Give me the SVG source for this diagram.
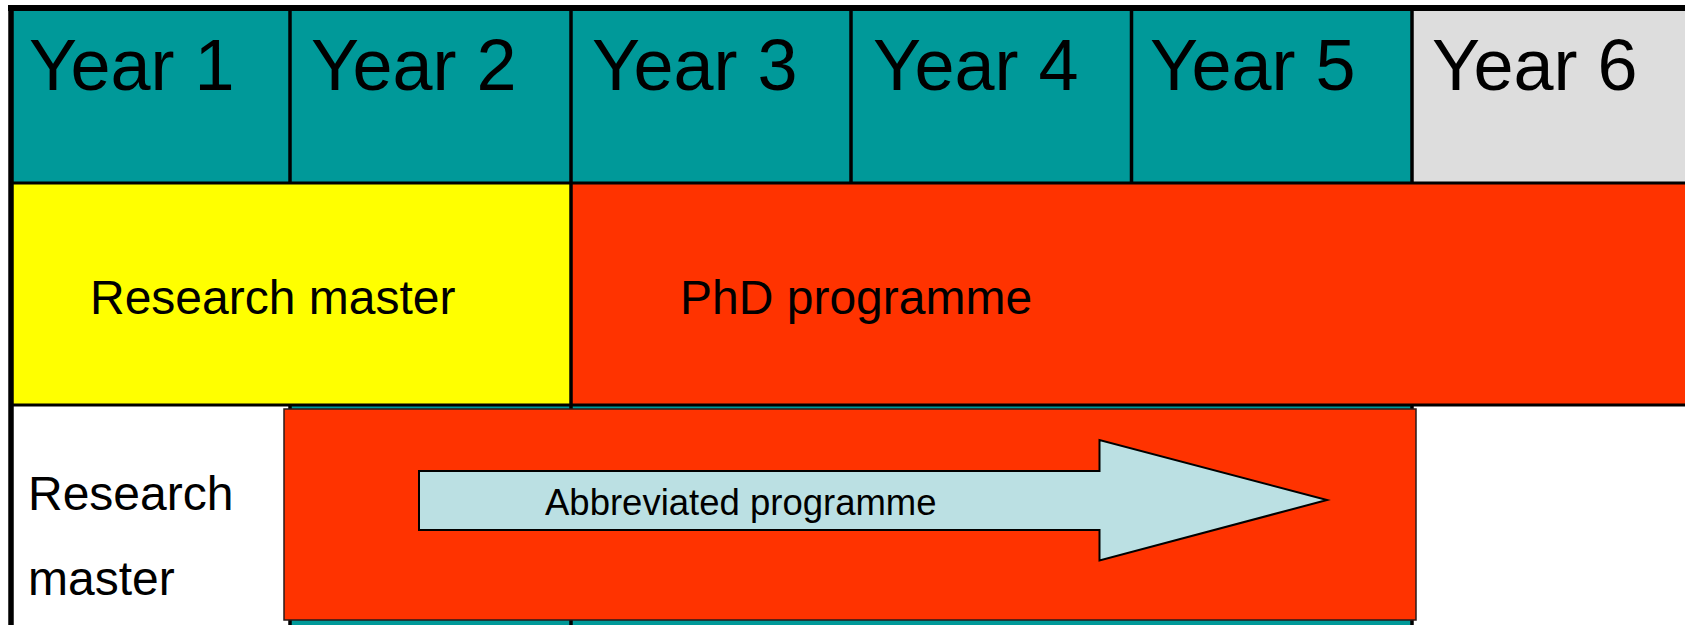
<svg xmlns="http://www.w3.org/2000/svg" width="1685" height="625" viewBox="0 0 1685 625">
  <style>
    .t { font-family: "Liberation Sans", Arial, sans-serif; fill: #000; }
    .yr { font-size: 72px; }
    .lbl { font-size: 48px; }
    .teal { fill: #009999; }
    .grid { stroke: #000; fill: none; }
  </style>
  <rect x="0" y="0" width="1685" height="625" fill="#ffffff"/>

  <!-- header row -->
  <g id="header">
    <rect class="teal" x="11" y="8" width="1401" height="175"/>
    <rect x="1412" y="8" width="280" height="175" fill="#DDDDDD"/>
    <text class="t yr" x="29" y="90">Year 1</text>
    <text class="t yr" x="311" y="90">Year 2</text>
    <text class="t yr" x="592" y="90">Year 3</text>
    <text class="t yr" x="873" y="90">Year 4</text>
    <text class="t yr" x="1150" y="90">Year 5</text>
    <text class="t yr" x="1432" y="90">Year 6</text>
  </g>

  <!-- second row -->
  <g id="research-master-row">
    <rect x="11" y="183" width="560" height="222" fill="#FFFF00"/>
    <text class="t lbl" x="90" y="314">Research master</text>
  </g>
  <g id="phd-programme">
    <rect x="571" y="183" width="1120" height="222" fill="#FF3300"/>
    <text class="t lbl" x="680" y="314">PhD programme</text>
  </g>

  <!-- third row background -->
  <g id="row3">
    <rect class="teal" x="290" y="405" width="1122" height="225"/>
    <text class="t" font-size="48" x="28" y="510">Research</text>
    <text class="t" font-size="48" x="28" y="595">master</text>
  </g>

  <!-- grid lines -->
  <g id="grid" class="grid">
    <line x1="8" y1="8" x2="1690" y2="8" stroke-width="6"/>
    <line x1="11" y1="5" x2="11" y2="630" stroke-width="5.5"/>
    <line x1="11" y1="183" x2="1690" y2="183" stroke-width="3"/>
    <line x1="11" y1="405" x2="1690" y2="405" stroke-width="3"/>
    <line x1="290" y1="8" x2="290" y2="183" stroke-width="3.5"/>
    <line x1="290" y1="405" x2="290" y2="630" stroke-width="3.5"/>
    <line x1="571" y1="8" x2="571" y2="630" stroke-width="3.5"/>
    <line x1="851" y1="8" x2="851" y2="183" stroke-width="3.5"/>
    <line x1="1131.5" y1="8" x2="1131.5" y2="183" stroke-width="3.5"/>
    <line x1="1412" y1="8" x2="1412" y2="183" stroke-width="3.5"/>
    <line x1="1412" y1="405" x2="1412" y2="630" stroke-width="3.5"/>
  </g>

  <!-- abbreviated programme box -->
  <g id="abbreviated-box">
    <rect x="284" y="409" width="1132" height="211" fill="#FF3300" stroke="#2a1a1a" stroke-width="1.5"/>
  </g>
  <g id="abbreviated-arrow">
    <polygon points="419,471 1099.5,471 1099.5,440 1327,500 1099.5,560.5 1099.5,530 419,530" fill="#BBE0E3" stroke="#000" stroke-width="2"/>
    <text class="t" font-size="36.5" x="545" y="515">Abbreviated programme</text>
  </g>

  <g id="connectors"/>
</svg>
